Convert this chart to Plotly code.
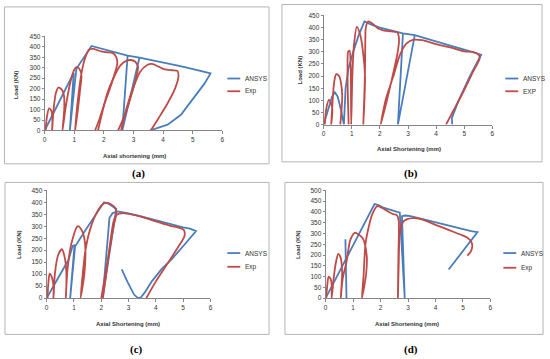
import plotly.graph_objects as go

W, H = 550, 359
BLUE = "#4a7ebb"
RED = "#be4b48"

# ---------------- data ----------------
x_ticks = [0, 1, 2, 3, 4, 5, 6]

# (a)
a_ansys_x = [0, 0.98, 0.85, 1.07, 1.58, 1.8, 2.2, 2.5, 2.8, 3.2, 3.5, 4.0, 4.5, 4.8, 5.1, 5.35, 5.55, 5.6,
             5.4, 5.05, 4.6, 4.15, 3.8, 3.55, None, 2.8, 2.62, 3.2]
a_ansys_y = [0, 275, 0, 295, 404, 396, 382, 370, 358, 348, 340, 325, 310, 300, 290, 280, 277, 273,
             225, 161, 75, 28, 12, 0, None, 358, 0, 348]
a_exp_x = [0.03, 0.08, 0.15, 0.22, 0.26, 0.25,
           0.3, 0.38, 0.46, 0.58, 0.65, 0.66, 0.6,
           0.72, 0.85, 0.98, 1.07, 1.17, 1.24, 1.2, 1.12, 1.03,
           1.1, 1.25, 1.4, 1.52, 1.65, 1.9, 2.1, 2.3, 2.42, 2.45, 2.38, 2.2, 2.0, 1.85, 1.7, None,
           1.8, 1.95, 2.12, 2.32, 2.55, 2.75, 2.9, 3.05, 3.15, 3.1, 2.95, 2.75, 2.48, None,
           2.58, 2.75, 2.98, 3.22, 3.45, 3.62, 3.85, 4.05, 4.3, 4.48, 4.52, 4.4, 4.15, 3.85, 3.58]
a_exp_y = [0, 70, 106, 96, 60, 0,
           100, 180, 205, 195, 168, 100, 0,
           120, 220, 285, 303, 295, 265, 200, 100, 0,
           120, 280, 360, 388, 390, 378, 374, 370, 350, 318, 280, 200, 120, 55, 0, None,
           0, 90, 180, 250, 310, 333, 337, 330, 305, 260, 180, 90, 0, None,
           0, 100, 200, 280, 312, 318, 305, 292, 288, 285, 262, 200, 130, 60, 0]

# (b)
b_ansys_x = [0, 0.15, 0.3, 0.4, 0.5, 0.62, 0.72, 0.78, 0.88, 1.05, 1.25, 1.45, 1.7, 2.0, 2.4, 2.82,
             3.24, 3.6, 4.0, 4.5, 5.0, 5.4, 5.6, 5.2, 4.8, 4.56, 4.57, None, 2.82, 2.64, 3.24]
b_ansys_y = [0, 60, 115, 133, 115, 59, 0, 150, 230, 300, 370, 425, 412, 400, 388, 376,
             369, 356, 342, 326, 309, 296, 288, 200, 100, 28, 0, None, 376, 0, 369]
b_exp_x = [0.04, 0.1, 0.19, 0.27, 0.31, 0.27,
           0.32, 0.38, 0.45, 0.55, 0.62, 0.66, 0.63, 0.59, None,
           0.89, 0.86, 0.85, 0.87, 0.92, 0.96, 0.98,
           1.02, 1.08, 1.18, 1.3, 1.4, 1.47, 1.45, 1.41,
           1.44, 1.47, 1.48, 1.5, 1.58, 1.75, 1.95, 2.15, 2.4, 2.62, 2.68, 2.62, 2.45, 2.25, 2.03,
           2.2, 2.48, 2.72, 2.95, 3.2, 3.5, 4.0, 4.5, 5.0, 5.3, 5.5, 5.55, 5.3, 4.9, 4.6, 4.35]
b_exp_y = [0, 70, 102, 85, 60, 0,
           100, 180, 208, 200, 170, 120, 50, 0, None,
           0, 120, 230, 300, 305, 250, 0,
           200, 330, 403, 370, 300, 200, 100, 0,
           100, 220, 330, 400, 425, 415, 395, 388, 384, 380, 350, 290, 200, 100, 0,
           100, 200, 290, 335, 350, 348, 332, 318, 302, 300, 290, 275, 215, 120, 55, 0]

# (c)
c_ansys_x = [0, 0.8, 0.95, 1.02, 0.86, 1.04, 1.4, 2.1, 2.3, 2.45, 2.55, 2.05, 2.3, 2.42, 2.6, 2.8, 3.0,
             3.5, 4.0, 4.5, 5.0, 5.25, 5.47, 5.1, 4.6, 4.2, 3.85, 3.6, 3.45, 3.35, 3.2, 2.95, 2.75]
c_ansys_y = [0, 160, 218, 222, 0, 215, 280, 400, 392, 380, 372, 0, 335, 355, 362, 358, 354,
             340, 324, 308, 295, 290, 280, 230, 165, 120, 70, 25, 3, 0, 15, 70, 120]
c_exp_x = [0.03, 0.06, 0.11, 0.18, 0.25, 0.25,
           0.3, 0.42, 0.56, 0.66, 0.72, 0.72, 0.7,
           0.76, 0.9, 1.14, 1.3, 1.38, 1.42, 1.38, 1.24,
           1.32, 1.42, 1.6, 1.85, 2.05, 2.2, 2.35, 2.5, 2.55, 2.45, 2.3, 2.15, 2.0, None,
           2.06, 2.2, 2.35, 2.45, 2.56, 2.8, 3.2, 3.6, 4.0, 4.5, 4.9, 5.02, 5.05, 4.8, 4.4, 4.0, 3.65]
c_exp_y = [0, 60, 102, 90, 50, 0,
           100, 180, 204, 170, 110, 50, 0,
           116, 225, 300, 280, 250, 200, 100, 0,
           100, 200, 290, 360, 392, 398, 392, 378, 355, 300, 200, 100, 0, None,
           0, 120, 250, 320, 348, 355, 347, 335, 320, 303, 292, 285, 260, 210, 140, 70, 0]

# (d)
d_ansys_x = [0, 1.78, 1.9, 2.1, 2.4, 2.6, 2.7, 2.88, 2.78, 2.9, 3.1, 3.5, 4.0, 4.5, 5.0, 5.3, 5.53, 4.48,
             None, 0.72, 0.76]
d_ansys_y = [0, 436, 432, 420, 408, 401, 396, 0, 380, 383, 380, 367, 351, 336, 320, 311, 306, 133,
             None, 273, 0]
d_exp_x = [0.02, 0.06, 0.11, 0.18, 0.22, 0.22,
           0.3, 0.38, 0.46, 0.54, 0.6, 0.58, 0.55,
           0.62, 0.76, 0.9, 1.06, 1.2, 1.35, 1.42, 1.5, 1.48, 1.4, 1.32,
           1.38, 1.45, 1.55, 1.7, 1.88, 2.0, 2.27, 2.45, 2.6, 2.66, 2.65, 2.63,
           2.66, 2.7, 2.8, 2.95, 3.17, 3.5, 4.0, 4.5, 4.9, 5.16, 5.3, 5.34, 5.28, 5.16]
d_exp_y = [0, 60, 100, 90, 65, 0,
           100, 170, 205, 190, 123, 60, 0,
           90, 168, 270, 303, 295, 278, 255, 190, 120, 50, 0,
           100, 250, 320, 390, 427, 422, 402, 390, 384, 360, 200, 0,
           150, 300, 350, 365, 371, 365, 340, 315, 295, 280, 262, 240, 215, 197]

# ---------------- layout helpers ----------------
def px(x):
    return x / W

def py(y):
    return 1 - y / H

panels = [
    dict(ax="", ansys=(a_ansys_x, a_ansys_y), exp=(a_exp_x, a_exp_y), ymax=450, expname="Exp",
         xtitle="Axial shortening (mm)", label="(a)",
         dom_x=(43, 222), dom_y=(33, 129), box=(2.5, 3, 269, 163),
         leg=(227, 240, 243, 76, 89), ytit=(15, 82), xtit=(133, 155), lab=(137, 173)),
    dict(ax="2", ansys=(b_ansys_x, b_ansys_y), exp=(b_exp_x, b_exp_y), ymax=450, expname="EXP",
         xtitle="Axial Shortening (mm)", label="(b)",
         dom_x=(324, 494), dom_y=(11.7, 123), box=(282, 0.5, 544, 161),
         leg=(507, 520, 523, 76, 89), ytit=(300, 67), xtit=(410, 148), lab=(412, 173)),
    dict(ax="3", ansys=(c_ansys_x, c_ansys_y), exp=(c_exp_x, c_exp_y), ymax=450, expname="Exp",
         xtitle="Axial Shortening (mm)", label="(c)",
         dom_x=(45, 210), dom_y=(190, 300), box=(3, 182, 269, 337),
         leg=(227, 240, 243, 254, 268), ytit=(17, 245), xtit=(127, 326), lab=(135, 352)),
    dict(ax="4", ansys=(d_ansys_x, d_ansys_y), exp=(d_exp_x, d_exp_y), ymax=500, expname="Exp",
         xtitle="Axial Shortening (mm)", label="(d)",
         dom_x=(326, 492), dom_y=(190, 300), box=(285, 182, 545, 337),
         leg=(505, 518, 521, 254, 269), ytit=(298, 245), xtit=(408, 326), lab=(412, 352)),
]

FONT = "Liberation Sans"
AXC = "#868686"
TXT = "#333333"

fig = go.Figure()
shapes = []
annotations = []
layout_axes = {}

for p in panels:
    s = p["ax"]
    xa, ya = "x" + s, "y" + s
    fig.add_trace(go.Scatter(x=p["ansys"][0], y=p["ansys"][1], mode="lines", name="ANSYS",
                             line=dict(color=BLUE, width=1.8), xaxis=xa, yaxis=ya,
                             showlegend=False, connectgaps=False))
    fig.add_trace(go.Scatter(x=p["exp"][0], y=p["exp"][1], mode="lines", name=p["expname"],
                             line=dict(color=RED, width=1.8, shape="spline", smoothing=0.8),
                             xaxis=xa, yaxis=ya, showlegend=False, connectgaps=False))
    x0, x1 = p["dom_x"]
    y0, y1 = p["dom_y"]
    layout_axes["xaxis" + s] = dict(domain=[px(x0), px(x1)], range=[0, 6], tickvals=x_ticks,
                                    anchor=ya, showgrid=False, zeroline=False, showline=True,
                                    linecolor=AXC, linewidth=1, ticks="outside", ticklen=3,
                                    tickcolor=AXC, tickfont=dict(family=FONT, size=6.5, color=TXT),
                                    fixedrange=True)
    layout_axes["yaxis" + s] = dict(domain=[py(y1), py(y0)], range=[0, p["ymax"]], dtick=50,
                                    anchor=xa, showgrid=False, zeroline=False, showline=True,
                                    linecolor=AXC, linewidth=1, ticks="outside", ticklen=2,
                                    tickcolor=AXC, tickfont=dict(family=FONT, size=6.5, color=TXT),
                                    fixedrange=True)
    bx0, by0, bx1, by1 = p["box"]
    shapes.append(dict(type="rect", xref="paper", yref="paper", x0=px(bx0), x1=px(bx1),
                       y0=py(by1), y1=py(by0), line=dict(color="#b4b4b4", width=1)))
    lx0, lx1, tx, ly1, ly2 = p["leg"]
    for yy, col, name in [(ly1, BLUE, "ANSYS"), (ly2, RED, p["expname"])]:
        shapes.append(dict(type="line", xref="paper", yref="paper", x0=px(lx0), x1=px(lx1),
                           y0=py(yy), y1=py(yy), line=dict(color=col, width=1.8)))
        annotations.append(dict(text=name, xref="paper", yref="paper", x=px(tx), y=py(yy),
                                xanchor="left", yanchor="middle", showarrow=False,
                                font=dict(family=FONT, size=6.5, color=TXT)))
    annotations.append(dict(text="<b>Load (KN)</b>", xref="paper", yref="paper",
                            x=px(p["ytit"][0]), y=py(p["ytit"][1]), textangle=-90,
                            showarrow=False, xanchor="center", yanchor="middle",
                            font=dict(family=FONT, size=6, color=TXT)))
    annotations.append(dict(text="<b>" + p["xtitle"] + "</b>", xref="paper", yref="paper",
                            x=px(p["xtit"][0]), y=py(p["xtit"][1]), showarrow=False,
                            xanchor="center", yanchor="middle",
                            font=dict(family=FONT, size=6, color=TXT)))
    annotations.append(dict(text="<b>" + p["label"] + "</b>", xref="paper", yref="paper",
                            x=px(p["lab"][0]), y=py(p["lab"][1]), showarrow=False,
                            xanchor="center", yanchor="middle",
                            font=dict(family="Liberation Serif", size=11, color="#000000")))

fig.update_layout(width=W, height=H, margin=dict(l=0, r=0, t=0, b=0),
                  paper_bgcolor="white", plot_bgcolor="white", showlegend=False,
                  shapes=shapes, annotations=annotations, **layout_axes)

fig.write_html("out.html", config={"displayModeBar": False},
               post_script="document.body.style.margin='0px';document.body.style.overflow='hidden';")
